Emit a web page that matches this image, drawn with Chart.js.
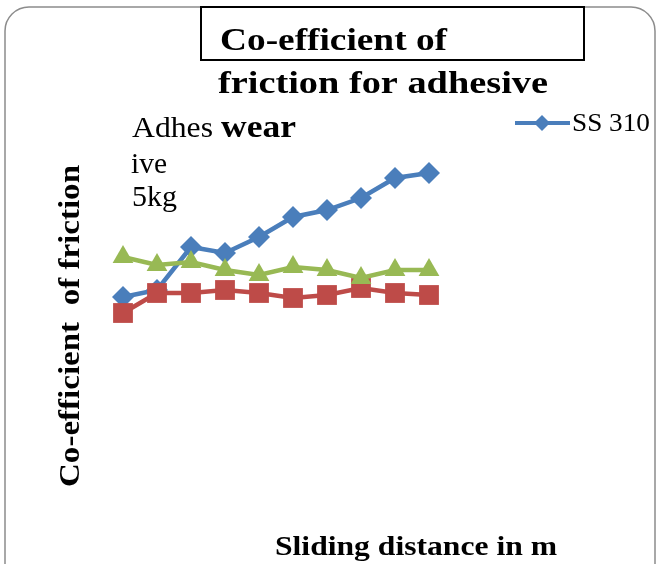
<!DOCTYPE html>
<html>
<head>
<meta charset="utf-8">
<script src="https://cdn.jsdelivr.net/npm/chart.js@4.4.1/dist/chart.umd.min.js"></script>
<style>
  html, body { margin: 0; padding: 0; background: #fff; }
  #wrap { width: 660px; height: 564px; position: relative; }
</style>
</head>
<body>
<div id="wrap"><canvas id="frictionChart"></canvas></div>
<script>
// sliding distance steps (labels hidden in the original)
const distances = ['200', '400', '600', '800', '1000', '1200', '1400', '1600', '1800', '2000'];

// co-efficient of friction
const ss310 = [0.446, 0.460, 0.546, 0.534, 0.566, 0.606, 0.620, 0.644, 0.684, 0.694];
const redSeries = [0.414, 0.454, 0.454, 0.460, 0.454, 0.444, 0.450, 0.464, 0.454, 0.450];
const greenSeries = [0.526, 0.510, 0.516, 0.500, 0.490, 0.506, 0.500, 0.484, 0.500, 0.500];

const seriesNames = ['SS 310', 'Series 2', 'Series 3'];

const blue = '#4A7EBB';
const red = '#BE4B48';
const green = '#98B954';

const serif = '"Liberation Serif", "DejaVu Serif", serif';

// draws text stretched sideways to a given width (the original text is wider than Times)
function wideText(c, text, x, y, width) {
    const w = c.measureText(text).width;
    c.save();
    c.translate(x, y);
    c.scale(width / w, 1);
    c.fillText(text, 0, 0);
    c.restore();
}

// frame, title box, stray text, legend and axis titles
const decorPlugin = {
    id: 'decor',
    afterDraw(chart) {
        const c = chart.ctx;
        c.save();

        // outer rounded frame
        c.strokeStyle = '#8c8c8c';
        c.lineWidth = 1.5;
        c.beginPath();
        c.roundRect(5, 7, 650, 600, 24);
        c.stroke();

        // title box
        c.strokeStyle = '#000';
        c.lineWidth = 2;
        c.strokeRect(201, 7, 383, 53);

        c.fillStyle = '#000';
        c.textBaseline = 'alphabetic';
        c.font = 'bold 32px ' + serif;
        wideText(c, 'Co-efficient of', 220, 50, 227);
        wideText(c, 'friction for adhesive', 218, 93, 330);

        // overlapping text block
        c.font = '29px ' + serif;
        wideText(c, 'Adhes', 132, 137, 81);
        wideText(c, 'ive', 131, 173, 36);
        wideText(c, '5kg', 132, 206, 45);
        c.font = 'bold 31px ' + serif;
        wideText(c, 'wear', 221, 137, 75);

        // legend (only SS 310 shows)
        c.strokeStyle = blue;
        c.lineWidth = 4;
        c.beginPath();
        c.moveTo(515, 123);
        c.lineTo(570, 123);
        c.stroke();
        c.fillStyle = blue;
        c.beginPath();
        c.moveTo(542, 115);
        c.lineTo(550, 123);
        c.lineTo(542, 131);
        c.lineTo(534, 123);
        c.closePath();
        c.fill();
        c.fillStyle = '#000';
        c.font = '26px ' + serif;
        wideText(c, seriesNames[0], 572, 131, 78);

        // axis titles
        c.font = 'bold 27px ' + serif;
        wideText(c, 'Sliding distance in m', 275, 555, 282);

        c.font = 'bold 30px ' + serif;
        c.translate(79, 487);
        c.rotate(-Math.PI / 2);
        wideText(c, 'Co-efficient  of friction', 0, 0, 322);

        c.restore();
    }
};

new Chart(document.getElementById('frictionChart'), {
    type: 'line',
    data: {
        labels: distances,
        datasets: [
            {
                label: seriesNames[0],
                data: ss310,
                borderColor: blue,
                backgroundColor: blue,
                borderWidth: 4.5,
                pointStyle: 'rectRot',
                pointRadius: 11,
                pointBorderWidth: 0,
                tension: 0,
                clip: false,
                order: 2
            },
            {
                label: seriesNames[1],
                data: redSeries,
                borderColor: red,
                backgroundColor: red,
                borderWidth: 4.5,
                pointStyle: 'rect',
                pointRadius: 14,
                pointBorderWidth: 0,
                tension: 0,
                clip: false,
                order: 1
            },
            {
                label: seriesNames[2],
                data: greenSeries,
                borderColor: green,
                backgroundColor: green,
                borderWidth: 4.5,
                pointStyle: 'triangle',
                pointRadius: 12,
                pointBorderWidth: 0,
                tension: 0,
                clip: false,
                order: 0
            }
        ]
    },
    options: {
        responsive: true,
        maintainAspectRatio: false,
        animation: false,
        layout: {
            padding: { left: 123, right: 231, top: 120, bottom: 44 }
        },
        scales: {
            x: { display: false, offset: false },
            y: { display: false, min: 0, max: 0.8 }
        },
        plugins: {
            legend: { display: false },
            title: { display: false },
            tooltip: { enabled: false }
        }
    },
    plugins: [decorPlugin]
});
</script>
</body>
</html>
